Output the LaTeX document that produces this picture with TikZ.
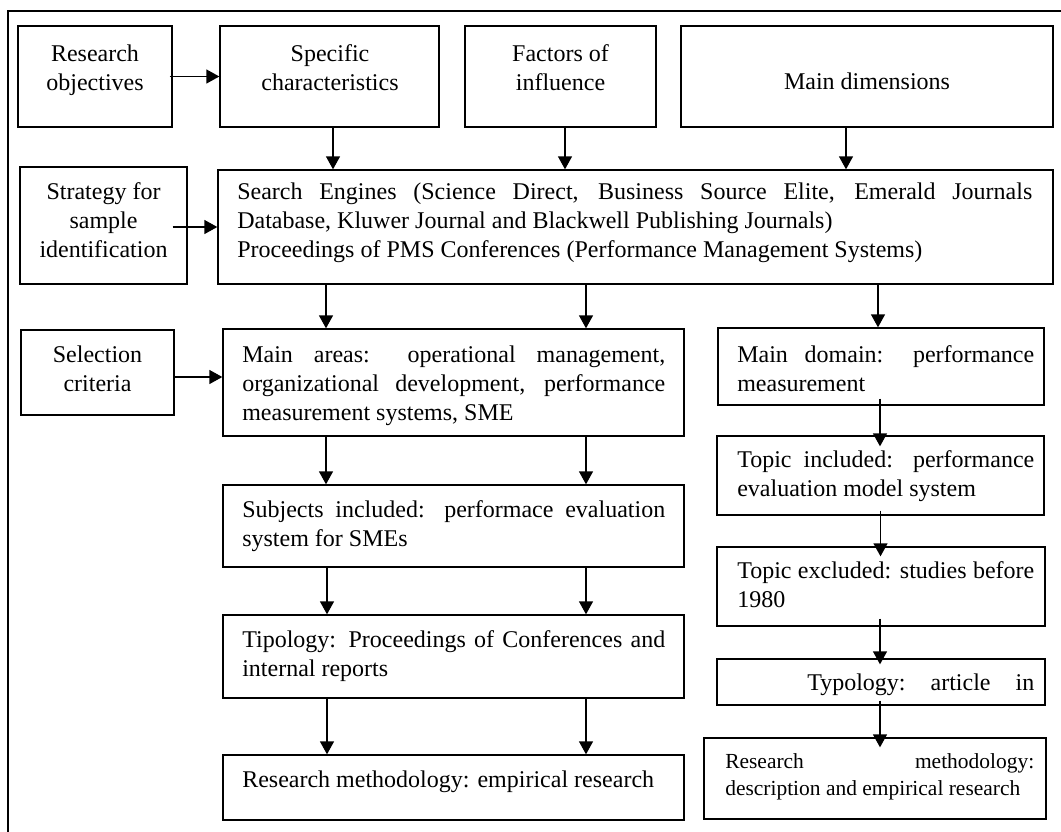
\documentclass[tikz,border=0pt]{standalone}
\usepackage{fontspec}
\setmainfont{Liberation Serif}
\usetikzlibrary{arrows.meta,fit}
\newcommand\dfont{\fontsize{18pt}{21.75pt}\selectfont}
\newcommand\sfont{\fontsize{16.1pt}{20.25pt}\selectfont}
\begin{document}
\begin{tikzpicture}[x=0.75pt,y=-0.75pt,
  bx/.style={draw, line width=1pt, inner sep=0pt, fit={#1}},
  tj/.style={anchor=north west, inner sep=0pt, text width=#1, align=justify, font=\dfont},
  tc/.style={anchor=north, inner sep=0pt, align=center, font=\dfont},
  ar/.style={line width=1pt, -{Triangle[length=9.75pt,width=10.5pt]}}]
\useasboundingbox (0,0) rectangle (1061,832);
\clip (0,0) rectangle (1061,832);
% frame
\node[bx={(8,11) (1075,900)}] (frame) {};
% boxes
\node[bx={(18,26) (172,127)}] (ro) {};
\node[bx={(220,26) (439,127)}] (sc) {};
\node[bx={(465,26) (656,127)}] (fi) {};
\node[bx={(681,26) (1053,127)}] (md) {};
\node[bx={(20,167) (187,284)}] (st) {};
\node[bx={(218,170) (1053,284)}] (se) {};
\node[bx={(21,330) (174,415)}] (sl) {};
\node[bx={(223,329) (684,436)}] (ma) {};
\node[bx={(718,328) (1044,405)}] (dm) {};
\node[bx={(223,485) (684,567)}] (sb) {};
\node[bx={(717,436) (1044,515)}] (ti) {};
\node[bx={(717,547) (1045,626)}] (te) {};
\node[bx={(223,615) (684,698)}] (tp) {};
\node[bx={(717,659) (1045,705)}] (ty) {};
\node[bx={(223,755) (684,820)}] (re) {};
\node[bx={(704,738) (1046,819)}] (rd) {};
% texts
\node[tc] (tro) at (95,40.7) {\strut Research\\objectives};
\node[tc] (tsc) at (330,40.7) {\strut Specific\\characteristics};
\node[tc] (tfi) at (560.5,40.7) {\strut Factors of\\influence};
\node[tc] (tmd) at (867,68.7) {\strut Main dimensions};
\node[tc] (tst) at (103.5,178.7) {\strut Strategy for\\sample\\identification};
\node[tj=596.25pt] (tse) at (237,178.7) {\strut Search Engines (Science Direct, Business Source Elite, Emerald Journals\linebreak Database, Kluwer Journal and Blackwell Publishing Journals)\\Proceedings of PMS Conferences (Performance Management Systems)};
\node[tc] (tsl) at (97.5,341.7) {\strut Selection\\criteria};
\node[tj=317.25pt] (tma) at (242,341.7) {\strut Main areas: operational management,\linebreak organizational development, performance\linebreak measurement systems, SME};
\node[tj=222.75pt] (tdm) at (737,341.7) {\strut Main domain: performance\linebreak measurement};
\node[tj=317.25pt] (tsb) at (242,496.7) {\strut Subjects included: performace evaluation\linebreak system for SMEs};
\node[tj=222.75pt] (tti) at (737,446.7) {\strut Topic included: performance\linebreak evaluation model system};
\node[tj=222.75pt] (tte) at (737,557.7) {\strut Topic excluded: studies before\linebreak 1980};
\node[tj=317.25pt] (ttp) at (242,626.7) {\strut Tipology: Proceedings of Conferences and\linebreak internal reports};
\node[tj=222.75pt] (tty) at (737,669.7) {\strut\hspace*{52.5pt}Typology:\hfill article\hfill in};
\node[tj=317.25pt] (tre) at (242,766.7) {\strut Research methodology: empirical research};
\node[tj=231.75pt, font=\sfont] (trd) at (725,749.1) {\strut Research\hfill methodology:\linebreak description and empirical research};
% connectors
\draw[ar] ([xshift=-2.25pt]ro.east) -- (ro.east -| sc.west);
\draw[ar] ([xshift=2.625pt]sc.south) -- ([xshift=2.625pt]sc.south |- se.north);
\draw[ar] ([xshift=3.375pt]fi.south) -- ([xshift=3.375pt]fi.south |- se.north);
\draw[ar] ([xshift=-15.75pt]md.south) -- ([xshift=-15.75pt]md.south |- se.north);
\draw[ar] ([xshift=-11.25pt,yshift=-1.125pt]st.east) -- ([yshift=-1.125pt]st.east -| se.west);
\draw[ar] ([xshift=-95.625pt]ma.north |- se.south) -- ([xshift=-95.625pt]ma.north);
\draw[ar] ([xshift=99.375pt]ma.north |- se.south) -- ([xshift=99.375pt]ma.north);
\draw[ar] ([xshift=-2.25pt]dm.north |- se.south) -- ([xshift=-2.25pt]dm.north);
\draw[ar] ([yshift=-3.375pt]sl.east) -- ([yshift=-3.375pt]sl.east -| ma.west);
\draw[ar] ([xshift=-95.625pt]ma.south) -- ([xshift=-95.625pt]ma.south |- sb.north);
\draw[ar] ([xshift=99.375pt]ma.south) -- ([xshift=99.375pt]ma.south |- sb.north);
\draw[ar] ([xshift=-94.875pt]sb.south) -- ([xshift=-94.875pt]sb.south |- tp.north);
\draw[ar] ([xshift=99.375pt]sb.south) -- ([xshift=99.375pt]sb.south |- tp.north);
\draw[ar] ([xshift=-94.875pt]tp.south) -- ([xshift=-94.875pt]tp.south |- re.north);
\draw[ar] ([xshift=99.375pt]tp.south) -- ([xshift=99.375pt]tp.south |- re.north);
\draw[ar] ([xshift=-0.75pt,yshift=5.25pt]dm.south) -- ([xshift=-0.75pt,yshift=-8.25pt]dm.south |- ti.north);
\draw[ar] ([yshift=3.75pt]ti.south) -- ([yshift=-7.5pt]ti.south |- te.north);
\draw[ar] ([xshift=-0.75pt,yshift=6pt]te.south) -- ([xshift=-0.75pt,yshift=-4.5pt]te.south |- ty.north);
\draw[ar] ([xshift=-0.75pt,yshift=3.75pt]ty.south) -- ([xshift=-0.75pt,yshift=-7.5pt]ty.south |- rd.north);
\end{tikzpicture}
\end{document}
